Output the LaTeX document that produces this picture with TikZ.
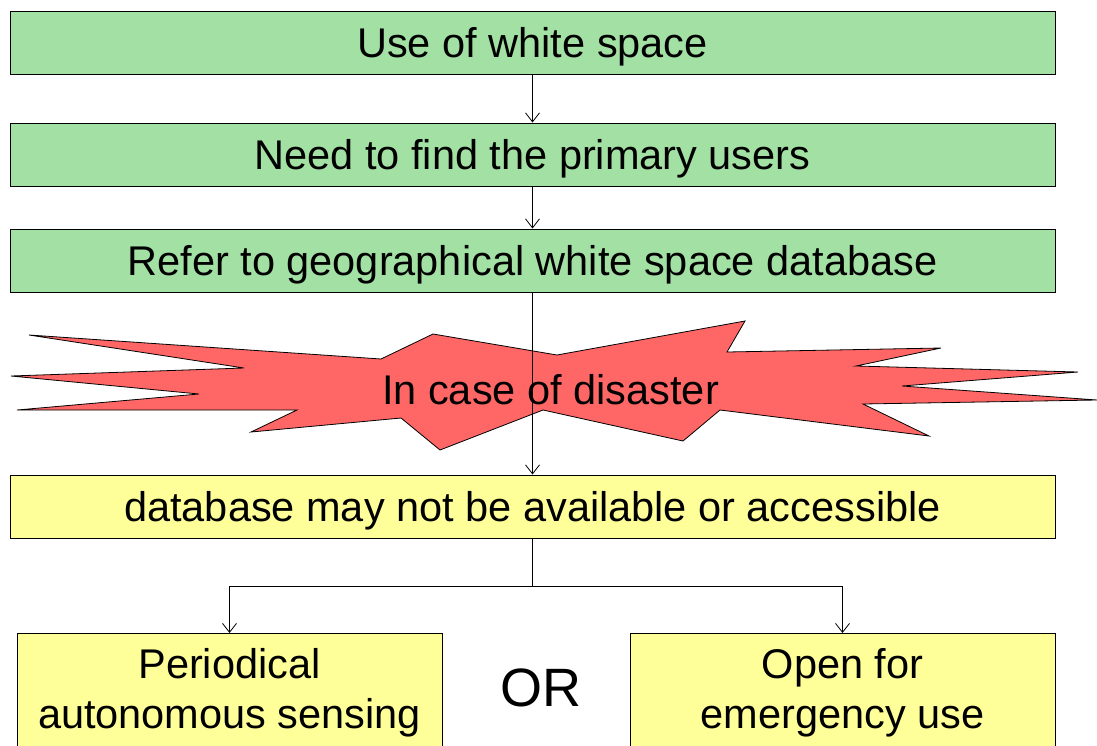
\documentclass[tikz,border=0pt]{standalone}
\usepackage{fontspec}
\setmainfont{Liberation Sans}
\usetikzlibrary{arrows.meta}
\definecolor{boxgreen}{RGB}{163,224,163}
\definecolor{boxyellow}{RGB}{255,255,153}
\definecolor{burstred}{RGB}{255,102,102}
\begin{document}
\begin{tikzpicture}[x=1pt,y=-1pt,
  wide/.style={draw=black, line width=1pt, minimum width=1045pt, minimum height=63pt,
    inner sep=0pt, text height=36pt, text depth=6pt, font=\fontsize{41.5}{49}\selectfont},
  gbox/.style={wide, fill=boxgreen},
  ybox/.style={wide, fill=boxyellow},
  half/.style={draw=black, fill=boxyellow, line width=1pt, minimum width=425pt,
    minimum height=118pt, inner sep=0pt, anchor=north, align=center,
    font=\fontsize{41.5}{50}\selectfont},
  arr/.style={draw=black, line width=0.8pt, -{Straight Barb[length=9pt,width=14pt,line width=0.8pt]}},
  link/.style={draw=black, line width=0.8pt}]
\useasboundingbox (0,0) rectangle (1097,745);
\clip (0,0) rectangle (1097,745);

\node[gbox] (b1) at (532.5,42.5) {Use of white space};
\node[gbox] (b2) at (532.5,154.5) {Need to find the primary users};
\node[gbox] (b3) at (532.5,260.5) {Refer to geographical white space database};

\draw[fill=burstred, line width=0.8pt, line join=miter]
  (29,335) -- (381,359) -- (433,334) -- (557,355) -- (745,321) -- (727,352)
  -- (941,348) -- (856,366) -- (1078,372) -- (902,386) -- (1097,400)
  -- (863,404) -- (929,436) -- (720,410) -- (683,441) -- (543,410)
  -- (440,450) -- (401,418) -- (251,432) -- (297,410) -- (17,410)
  -- (199,394) -- (11,376) -- (244,368) -- cycle;
\node[font=\fontsize{41.5}{49}\selectfont] (burst) at (550.5,390) {In case of disaster};

\node[ybox] (b4) at (532.5,506.5) {database may not be available or accessible};

\node[half] (lbox) at (229.5,633) {Periodical\\autonomous sensing};
\node[half] (rbox) at (842.5,633) {Open for\\emergency use};
\node[font=\fontsize{54}{60}\selectfont] (or) at (541,688) {OR};

\draw[arr] (b1.south) -- (b2.north);
\draw[arr] (b2.south) -- (b3.north);
\draw[arr] (b3.south) -- (b4.north);
\coordinate (split) at (532.5,586);
\draw[link] (b4.south) -- (split);
\draw[arr] (split) -| (lbox.north);
\draw[arr] (split) -| (rbox.north);
\end{tikzpicture}
\end{document}
